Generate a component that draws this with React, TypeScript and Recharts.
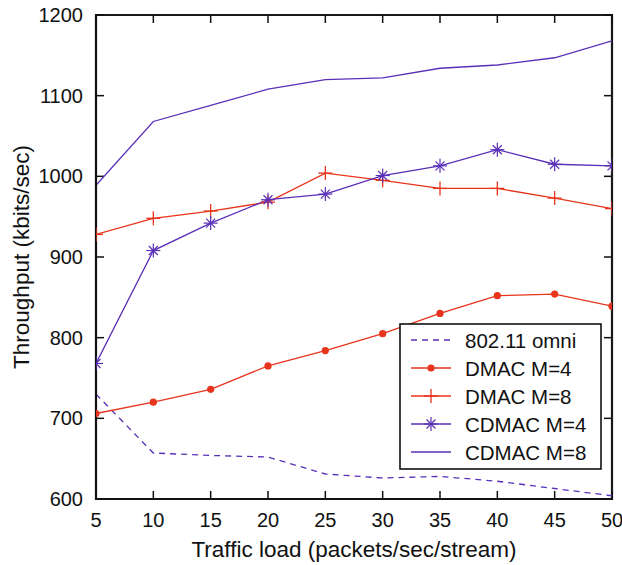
import React from "react";
import {Line, LineChart, ReferenceArea, ReferenceLine, XAxis, YAxis} from "recharts";

const loads = [5, 10, 15, 20, 25, 30, 35, 40, 45, 50];
const omni = [730, 657, 654, 652, 631, 626, 628, 622, 613, 604];
const dmac4 = [706, 720, 736, 765, 784, 805, 830, 852, 854, 839];
const dmac8 = [928, 948, 957, 968, 1004, 995, 985, 985, 973, 960];
const cdmac4 = [768, 908, 942, 971, 978, 1001, 1013, 1033, 1015, 1013];
const cdmac8 = [989, 1068, 1088, 1108, 1120, 1122, 1134, 1138, 1147, 1168];
const yTicks = [600, 700, 800, 900, 1000, 1100, 1200];
const seriesNames = ["802.11 omni", "DMAC M=4", "DMAC M=8", "CDMAC M=4", "CDMAC M=8"];

const RED = "#e8341c";
const PURPLE = "#5a2fb8";
const FONT = "'Liberation Sans', Arial, Helvetica, sans-serif";
const TICK_LEN = 8;

const data = loads.map((load, i) => ({
  load,
  omni: omni[i],
  dmac4: dmac4[i],
  dmac8: dmac8[i],
  cdmac4: cdmac4[i],
  cdmac8: cdmac8[i],
}));

function DotMark({cx, cy}: any) {
  if (cx == null || cy == null) return null;
  return <circle cx={cx} cy={cy} r={3.6} fill={RED} stroke="none"/>;
}

function PlusMark({cx, cy}: any) {
  if (cx == null || cy == null) return null;
  const s = 7;
  return (
    <g stroke={RED} strokeWidth={1.3}>
      <line x1={cx - s} x2={cx + s} y1={cy} y2={cy}/>
      <line x1={cx} x2={cx} y1={cy - s} y2={cy + s}/>
    </g>
  );
}

function StarMark({cx, cy}: any) {
  if (cx == null || cy == null) return null;
  const s = 7;
  const d = 4.5;
  return (
    <g stroke={PURPLE} strokeWidth={1.2}>
      <line x1={cx - s} x2={cx + s} y1={cy} y2={cy}/>
      <line x1={cx} x2={cx} y1={cy - s} y2={cy + s}/>
      <line x1={cx - d} x2={cx + d} y1={cy - d} y2={cy + d}/>
      <line x1={cx - d} x2={cx + d} y1={cy + d} y2={cy - d}/>
    </g>
  );
}

function BottomTick({x, y, payload}: any) {
  return (
    <text x={x} y={y + 11} textAnchor="middle" dominantBaseline="central"
          fontSize={20} fontFamily={FONT} fill="#111">{payload.value}</text>
  );
}

function LeftTick({x, y, payload}: any) {
  return (
    <text x={x} y={y} textAnchor="end" dominantBaseline="central"
          fontSize={20} fontFamily={FONT} fill="#111">{payload.value}</text>
  );
}

// gnuplot-style inward ticks at both ends of each tick position
function VTicks(props: any) {
  const x = props.x1;
  const top = Math.min(props.y1, props.y2);
  const bottom = Math.max(props.y1, props.y2);
  return (
    <g stroke="#111" strokeWidth={1.5}>
      <line x1={x} x2={x} y1={bottom} y2={bottom - TICK_LEN}/>
      <line x1={x} x2={x} y1={top} y2={top + TICK_LEN}/>
    </g>
  );
}

function HTicks(props: any) {
  const y = props.y1;
  const left = Math.min(props.x1, props.x2);
  const right = Math.max(props.x1, props.x2);
  return (
    <g stroke="#111" strokeWidth={1.5}>
      <line x1={left} x2={left + TICK_LEN} y1={y} y2={y}/>
      <line x1={right} x2={right - TICK_LEN} y1={y} y2={y}/>
    </g>
  );
}

function LegendBox() {
  const rowH = 28;
  const glyph = (i: number, cy: number) => {
    const line = (color: string, dash?: string) => (
      <line x1={12} x2={52} y1={cy} y2={cy} stroke={color} strokeWidth={1.3} strokeDasharray={dash}/>
    );
    if (i === 0) return line(PURPLE, "6 5");
    if (i === 1) return <g>{line(RED)}<DotMark cx={32} cy={cy}/></g>;
    if (i === 2) return <g>{line(RED)}<PlusMark cx={32} cy={cy}/></g>;
    if (i === 3) return <g>{line(PURPLE)}<StarMark cx={32} cy={cy}/></g>;
    return line(PURPLE);
  };
  return (
    <svg width={203} height={147} style={{display: "block"}}>
      <rect x={1} y={1} width={201} height={145} fill="#fff" stroke="#111" strokeWidth={1.6}/>
      {seriesNames.map((name, i) => {
        const cy = 17 + i * rowH;
        return (
          <g key={name}>
            {glyph(i, cy)}
            <text x={66} y={cy} dominantBaseline="central" fontSize={20.5}
                  fontFamily={FONT} fill="#111">{name}</text>
          </g>
        );
      })}
    </svg>
  );
}

export default function App() {
  return (
    <div style={{position: "absolute", left: 0, top: 0, width: 622, height: 565, background: "#fff"}}>
      <LineChart width={622} height={565} data={data}
                 margin={{top: 15, right: 10, left: 36, bottom: 26}}>
        <XAxis dataKey="load" type="number" domain={[5, 50]} ticks={loads}
               allowDataOverflow height={40} tickSize={0} tickMargin={10}
               axisLine={{stroke: "#111", strokeWidth: 2}} tickLine={false}
               tick={<BottomTick/>} interval={0}
               label={{
                 content: ({viewBox}: any) => (
                   <text x={viewBox.x + viewBox.width / 2} y={viewBox.y + 50}
                         textAnchor="middle" dominantBaseline="central"
                         fontSize={22.5} fontFamily={FONT} fill="#111">
                     Traffic load (packets/sec/stream)
                   </text>
                 ),
               }}/>
        <YAxis type="number" domain={[600, 1200]} ticks={yTicks} allowDataOverflow
               width={60} tickSize={0} tickMargin={13} interval={0}
               axisLine={{stroke: "#111", strokeWidth: 2}} tickLine={false}
               tick={<LeftTick/>}
               label={{
                 content: ({viewBox}: any) => {
                   const cx = viewBox.x - 15;
                   const cy = viewBox.y + viewBox.height / 2;
                   return (
                     <text x={cx} y={cy} transform={`rotate(-90 ${cx} ${cy})`}
                           textAnchor="middle" dominantBaseline="central"
                           fontSize={22.5} fontFamily={FONT} fill="#111">
                       Throughput (kbits/sec)
                     </text>
                   );
                 },
               }}/>
        {/* plot frame: transparent fill so the stroke is drawn */}
        <ReferenceArea x1={5} x2={50} y1={600} y2={1200} fill="#ffffff"
                       fillOpacity={0} stroke="#1a1a1a" strokeWidth={2.2}/>
        {loads.map((t) => (
          <ReferenceLine key={`x${t}`} x={t} shape={<VTicks/>}/>
        ))}
        {yTicks.map((t) => (
          <ReferenceLine key={`y${t}`} y={t} shape={<HTicks/>}/>
        ))}
        <Line dataKey="omni" name={seriesNames[0]} stroke={PURPLE} strokeWidth={1.3}
              strokeDasharray="6 5" dot={false} isAnimationActive={false}/>
        <Line dataKey="dmac4" name={seriesNames[1]} stroke={RED} strokeWidth={1.3}
              dot={<DotMark/>} activeDot={false} isAnimationActive={false}/>
        <Line dataKey="dmac8" name={seriesNames[2]} stroke={RED} strokeWidth={1.3}
              dot={<PlusMark/>} activeDot={false} isAnimationActive={false}/>
        <Line dataKey="cdmac4" name={seriesNames[3]} stroke={PURPLE} strokeWidth={1.3}
              dot={<StarMark/>} activeDot={false} isAnimationActive={false}/>
        <Line dataKey="cdmac8" name={seriesNames[4]} stroke={PURPLE} strokeWidth={1.3}
              dot={false} isAnimationActive={false}/>
      </LineChart>
      <div style={{position: "absolute", left: 399, top: 323}}>
        <LegendBox/>
      </div>
    </div>
  );
}
